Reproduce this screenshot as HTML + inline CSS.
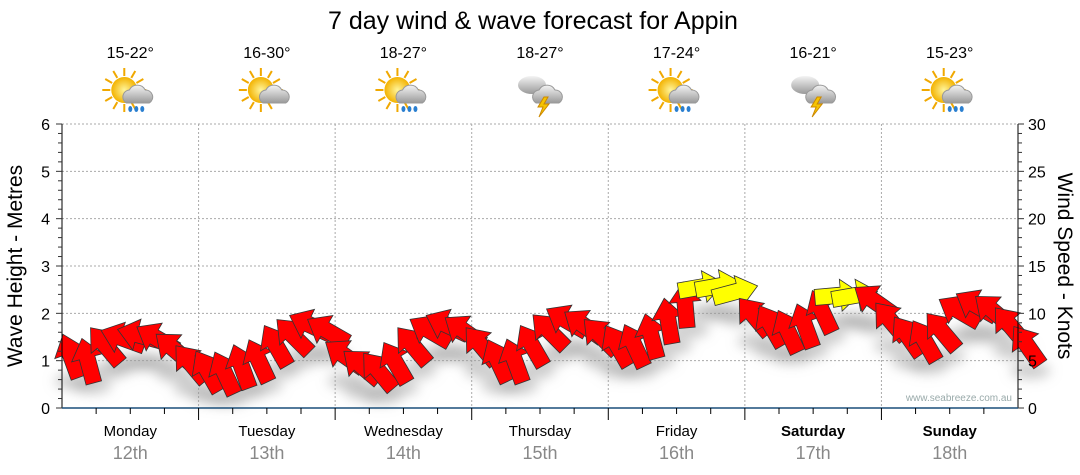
<!DOCTYPE html>
<html><head><meta charset="utf-8"><style>
body{margin:0;background:#fff;font-family:"Liberation Sans",Arial,sans-serif}
svg{display:block}
</style></head><body>
<svg id="c" width="1080" height="475">
<defs>
<filter id="sh" x="-50%" y="-50%" width="200%" height="200%"><feGaussianBlur stdDeviation="6"/></filter>
<radialGradient id="sun"><stop offset="0" stop-color="#fff59a"/><stop offset="1" stop-color="#f3b200"/></radialGradient>
<linearGradient id="cl" x1="0" y1="0" x2="0" y2="1"><stop offset="0" stop-color="#f4f4f4"/><stop offset="1" stop-color="#9a9a9a"/></linearGradient>
</defs>
<text x="533" y="29" font-size="25" text-anchor="middle" fill="#000">7 day wind &amp; wave forecast for Appin</text>
<g id="grid"></g><g id="shadows" filter="url(#sh)"></g><g id="arrows"></g><g id="axes"></g><g id="icons"></g>
<text x="1012" y="401" font-size="10" fill="#9aa" text-anchor="end">www.seabreeze.com.au</text>
<text transform="translate(22,266) rotate(-90)" font-size="21" text-anchor="middle">Wave Height - Metres</text>
<text transform="translate(1058,266) rotate(90)" font-size="21" text-anchor="middle">Wind Speed - Knots</text>
</svg>
<script>
const days=["Monday","Tuesday","Wednesday","Thursday","Friday","Saturday","Sunday"];
const dates=["12th","13th","14th","15th","16th","17th","18th"];
const temps=["15-22°","16-30°","18-27°","18-27°","17-24°","16-21°","15-23°"];
const iconTypes=["sunrain","suncloud","sunrain","storm","sunrain","storm","sunrain"];
const waveTicks=[0,1,2,3,4,5,6];
const windTicks=[0,5,10,15,20,25,30];
const windSpeed=[5.6,5.1,6.7,7.4,7.7,7.4,6.3,4.8, 4.0,3.8,4.5,5.1,6.7,7.7,8.8,8.2, 5.6,4.5,4.0,4.9,6.7,8.2,8.8,8.2, 6.7,5.1,5.1,6.7,8.2,9.3,8.8,7.7, 6.7,6.7,7.7,9.3,11.0,12.8,12.9,12.3, 9.8,8.8,8.2,8.8,10.3,11.9,11.9,11.4, 9.3,7.7,7.2,8.2,10.3,10.9,10.3,8.8,6.7];
const windDir=[-20,-15,-40,-70,-75,-60,-50,-40, -30,-25,-20,-25,-30,-45,-65,-60, -55,-50,-40,-30,-40,-60,-65,-55, -40,-25,-20,-30,-45,-60,-55,-45, -30,-25,-15,-10,-5,80,80,75, -40,-30,-25,-20,-25,85,80,-55, -40,-35,-30,-40,-60,-60,-50,-40,-35];
const X0=62,X1=1018,Y0=408,Y1=124;
const xT=h=>X0+(X1-X0)*h/168;
const yW=m=>Y0-(Y0-Y1)*m/6;
const yK=k=>Y0-(Y0-Y1)*k/30;
const NS="http://www.w3.org/2000/svg";
function mk(p,t,a){const e=document.createElementNS(NS,t);for(const k in a)e.setAttribute(k,a[k]);document.getElementById(p).appendChild(e);return e;}
waveTicks.forEach(v=>{if(v>0){const l=mk('grid','line',{x1:X0,x2:X1,y1:yW(v),y2:yW(v),stroke:'#aaa','stroke-dasharray':'2,2'});

}});
for(let d=1;d<7;d++){const l=mk('grid','line',{x1:xT(d*24),x2:xT(d*24),y1:Y1,y2:Y0,stroke:'#aaa','stroke-dasharray':'2,2'});

}
mk('axes','line',{x1:X0,x2:X0,y1:Y1,y2:Y0,stroke:'#000'});
mk('axes','line',{x1:X1,x2:X1,y1:Y1,y2:Y0,stroke:'#000'});
mk('axes','line',{x1:X0,x2:X1,y1:Y0,y2:Y0,stroke:'#1a4f7a','stroke-width':1.5});
for(let i=0;i<=30;i++){const y=Y0-(Y0-Y1)*i/30;const maj=i%5==0;
mk('axes','line',{x1:X0-(maj?6:4),x2:X0,y1:y,y2:y,stroke:'#333'});
mk('axes','line',{x1:X1,x2:X1+(maj?6:4),y1:y,y2:y,stroke:'#333'});}
waveTicks.forEach(v=>{const t=mk('axes','text',{x:X0-12,y:yW(v)+6,'font-size':16,'text-anchor':'end'});t.textContent=v;

});
windTicks.forEach(v=>{const t=mk('axes','text',{x:X1+10,y:yK(v)+6,'font-size':16});t.textContent=v;

});
for(let h=6;h<168;h+=6){mk('axes','line',{x1:xT(h),x2:xT(h),y1:Y0,y2:Y0+(h%24==0?12:6),stroke:'#000'});}
days.forEach((d,i)=>{const cx=xT(i*24+12);const bold=i>=5;
const t=mk('axes','text',{x:cx,y:436,'font-size':15,'text-anchor':'middle','font-weight':bold?'bold':'normal'});t.textContent=d;


const t2=mk('axes','text',{x:cx,y:459,'font-size':18,'text-anchor':'middle',fill:'#888'});t2.textContent=dates[i];


const t3=mk('icons','text',{x:cx,y:58,'font-size':16,'text-anchor':'middle'});t3.textContent=temps[i];


const g=mk('icons','g',{transform:`translate(${cx},95)`});


const typ=iconTypes[i];
if(typ!='storm'){for(let r=0;r<12;r++){const a=r*Math.PI/6;const l=document.createElementNS(NS,'line');
l.setAttribute('x1',-6+Math.cos(a)*14);l.setAttribute('y1',-5+Math.sin(a)*14);l.setAttribute('x2',-6+Math.cos(a)*22);l.setAttribute('y2',-5+Math.sin(a)*22);l.setAttribute('stroke','#f0a800');l.setAttribute('stroke-width',2);g.appendChild(l);}
const s=document.createElementNS(NS,'circle');s.setAttribute('cx',-6);s.setAttribute('cy',-5);s.setAttribute('r',13);s.setAttribute('fill','url(#sun)');g.appendChild(s);}
else{const c0=document.createElementNS(NS,'ellipse');c0.setAttribute('cx',-8);c0.setAttribute('cy',-10);c0.setAttribute('rx',14);c0.setAttribute('ry',9);c0.setAttribute('fill','url(#cl)');g.appendChild(c0);}
const c=document.createElementNS(NS,'path');c.setAttribute('d','M-4,8 a7,7 0 0 1 3,-13 a9,9 0 0 1 16,0 a7,7 0 0 1 4,13 z');c.setAttribute('fill','url(#cl)');c.setAttribute('stroke','#999');g.appendChild(c);
if(typ=='storm'){const b=document.createElementNS(NS,'path');b.setAttribute('d','M4,2 l-6,10 h5 l-4,10 l10,-13 h-5 l4,-7z');b.setAttribute('fill','#f5c400');b.setAttribute('stroke','#c80');g.appendChild(b);}
if(typ=='sunrain'){[0,6,12].forEach(dx=>{const d=document.createElementNS(NS,'ellipse');d.setAttribute('cx',dx);d.setAttribute('cy',14);d.setAttribute('rx',2);d.setAttribute('ry',3);d.setAttribute('fill','#2a7fd0');g.appendChild(d);});}
});
windSpeed.forEach((k,i)=>{const x=xT(i*3+1.5),y=yK(k);
const sh=mk('shadows','ellipse',{cx:x+4,cy:y+26,rx:20,ry:8,fill:'#999',opacity:0.5});


const col=k>=11.5?'#ffff00':'#ff0000';
const p=mk('arrows','polygon',{points:'-8,24 8,24 8,-2 16,-2 0,-22 -16,-2 -8,-2',fill:col,stroke:'#333','stroke-width':0.8,transform:`translate(${x},${y}) rotate(${windDir[i]})`});

});
</script>
</body></html>
